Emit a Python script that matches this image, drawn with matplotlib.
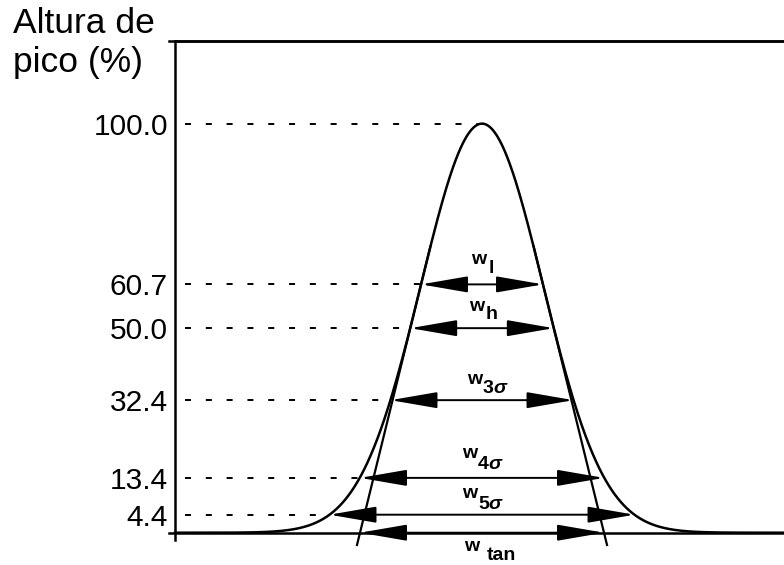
import numpy as np
import matplotlib
matplotlib.use("Agg")
import matplotlib.pyplot as plt

# ---- data ----
levels = [100.0, 60.7, 50.0, 32.4, 13.4, 4.4]
level_labels = ["100.0", "60.7", "50.0", "32.4", "13.4", "4.4"]
width_names = ["l", "h", "3σ", "4σ", "5σ", "tan"]
width_levels = [60.7, 50.0, 32.4, 13.4, 4.4, 0.0]
half_widths = [1.0, 1.177, 1.5, 2.0, 2.5, 2.0]   # in units of sigma
peak_height = 100.0
peak_sigma = 1.0
inflection_height = 60.65

plt.rcParams["font.family"] = ["Liberation Sans", "DejaVu Sans"]

fig = plt.figure(figsize=(7.84, 5.65), dpi=100)
ax = fig.add_axes([175 / 784, 25 / 565, 609 / 784, 499 / 565])
XL, XR = -5.033, 4.951
YB, YT = -1.785, 120.2
ax.set_xlim(XL, XR)
ax.set_ylim(YB, YT)

for s in ("right", "bottom"):
    ax.spines[s].set_visible(False)
ax.spines["left"].set_linewidth(1.8)
ax.spines["top"].set_linewidth(1.8)
ax.set_xticks([])
ax.set_yticks(levels)
ax.set_yticklabels(level_labels)
ax.tick_params(axis="y", length=0, pad=5, labelsize=21.5)

# extend top line and baseline slightly left of the axis
ax.plot([XL - 0.1, XR], [YT, YT], color="black", lw=1.8, clip_on=False)
ax.plot([XL - 0.1, XR], [0, 0], color="black", lw=1.8, clip_on=False)

# gaussian peak
x = np.linspace(XL, XR, 1200)
y = peak_height * np.exp(-0.5 * (x / peak_sigma) ** 2)
ax.plot(x, y, color="black", lw=1.8, clip_on=False)

# tangents at inflection points
for sgn in (-1, 1):
    ys = np.array([-3.0, 70.0])
    xs = sgn * (2 * peak_sigma - ys / inflection_height * peak_sigma)
    ax.plot(xs, ys, color="black", lw=1.6, clip_on=False)

# dashed guide lines
for lev in levels:
    xl = -peak_sigma * np.sqrt(2 * np.log(peak_height / lev))
    ax.plot([-4.87, xl], [lev, lev], color="black", lw=1.4,
            ls=(0, (3.1, 7.6)))

# width arrows
for lev, hw in zip(width_levels, half_widths):
    ax.annotate("", xy=(hw, lev), xytext=(-hw, lev),
                arrowprops=dict(arrowstyle="<|-|>,head_length=2.9,head_width=0.5",
                                mutation_scale=10, lw=1.4, color="black",
                                shrinkA=0, shrinkB=0),
                annotation_clip=False)

# labels: (w left px, w baseline px, sub dx px, sub dy px)
layout = [(471, 264, 18, 9), (469, 311, 17, 8), (467, 384, 16, 9),
          (462, 458, 16, 11), (462, 498, 16, 11), (464, 551, 23, 9)]
FS = 14
for name, (px, py, dx, dy) in zip(width_names, layout):
    xd = (px - 482) / 61
    yd = (532.7 - py) / 4.09
    ax.text(xd, yd, "w", ha="left", va="baseline", fontsize=FS,
            fontweight="bold", clip_on=False)
    if name.endswith("σ"):
        ax.annotate(name[0], xy=(xd, yd), xytext=(dx * 0.72, -dy * 0.72),
                    textcoords="offset points", ha="left", va="baseline",
                    fontsize=FS, fontweight="bold", annotation_clip=False)
        ax.annotate("σ", xy=(xd, yd), xytext=((dx + 10.5) * 0.72, -dy * 0.72),
                    textcoords="offset points", ha="left", va="baseline",
                    fontsize=FS, fontweight="bold", fontstyle="italic",
                    annotation_clip=False)
    else:
        ax.annotate(name, xy=(xd, yd), xytext=(dx * 0.72, -dy * 0.72),
                    textcoords="offset points", ha="left", va="baseline",
                    fontsize=FS, fontweight="bold", annotation_clip=False)

# axis title
fig.text(13 / 784, 1 - 33 / 565, "Altura de", fontsize=25.5,
         ha="left", va="baseline")
fig.text(13 / 784, 1 - 72 / 565, "pico (%)", fontsize=25.5,
         ha="left", va="baseline")

fig.savefig("out.png", dpi=100)
